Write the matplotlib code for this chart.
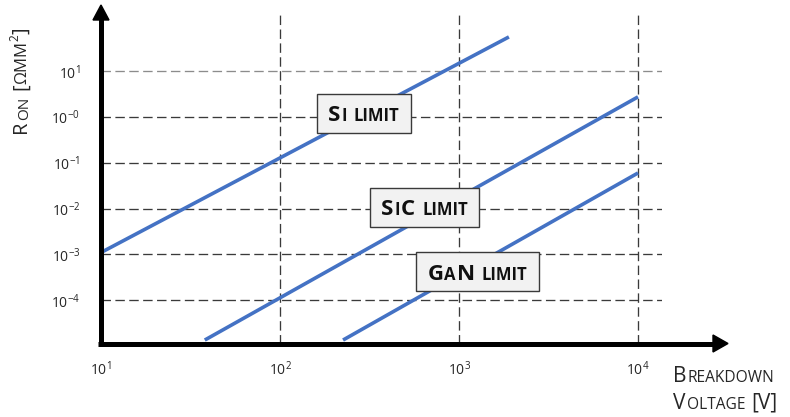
import matplotlib
matplotlib.use("Agg")
import matplotlib.pyplot as plt
from matplotlib.patches import Rectangle, Polygon
from matplotlib.lines import Line2D
from matplotlib.transforms import IdentityTransform

FONT = ['Open Sans', 'DejaVu Sans']
plt.rcParams['font.family'] = FONT
plt.rcParams['lines.scale_dashes'] = False

# ---------------- data ----------------
si_v = [10, 1900]
si_r = [1.1e-3, 56]
sic_v = [38, 1.0e4]
sic_r = [1.35e-5, 2.75]
gan_v = [225, 1.0e4]
gan_r = [1.35e-5, 0.060]

x_ticks = [1e1, 1e2, 1e3, 1e4]
x_labels = ['10^{1}', '10^{2}', '10^{3}', '10^{4}']
y_ticks = [1e-4, 1e-3, 1e-2, 1e-1, 1e0, 1e1]
y_labels = ['10^{-4}', '10^{-3}', '10^{-2}', '10^{-1}', '10^{-0}', '10^{1}']

# ---------------- figure ----------------
DPI = 100
W, H = 790, 417
fig = plt.figure(figsize=(W / DPI, H / DPI), dpi=DPI)
ax = fig.add_axes([101 / W, (H - 343.5) / H, 561 / W, 328.5 / H])
ax.set_xscale('log')
ax.set_yscale('log')
ax.set_xlim(10, 10 ** 4.134)
ax.set_ylim(10 ** -4.945, 10 ** 2.227)
ax.set_frame_on(False)

BLUE = '#4472C4'
for v, r in [(si_v, si_r), (sic_v, sic_r), (gan_v, gan_r)]:
    ax.plot(v, r, color=BLUE, lw=2.6, solid_capstyle='butt', zorder=3)

TXT = '#262626'
ax.set_xticks(x_ticks, labels=[r'$\mathregular{%s}$' % s for s in x_labels])
ax.set_yticks(y_ticks, labels=[r'$\mathregular{%s}$' % s for s in y_labels])
ax.minorticks_off()
ax.tick_params(axis='both', length=0, labelsize=10, labelcolor=TXT)
ax.tick_params(axis='y', pad=15)
ax.tick_params(axis='x', pad=12)
ax.grid(True, which='major', color='#3a3a3a', linewidth=0.95,
        linestyle=(0, (6.8, 3.2)))
ax.yaxis.get_gridlines()[-1].set_color('#8c8c8c')

# ---------------- axis arrows ----------------
ident = IdentityTransform()
fig.canvas.draw()
x0, y0 = ax.transAxes.transform((0, 0))
x1, y1 = ax.transAxes.transform((1, 1))
LW = 3.6
fig.add_artist(Line2D([x0, x0], [y0 - 2.5, y1 - 4], color='black', lw=LW,
                      transform=ident, solid_capstyle='butt', zorder=6))
fig.add_artist(Polygon([[x0 - 8, y1 - 5], [x0 + 8, y1 - 5], [x0, y1 + 10]],
                       closed=True, color='black', transform=ident, zorder=6))
fig.add_artist(Line2D([x0 - 2.5, x1 + 52], [y0, y0], color='black', lw=LW,
                      transform=ident, solid_capstyle='butt', zorder=6))
fig.add_artist(Polygon([[x1 + 51, y0 + 8.5], [x1 + 51, y0 - 8.5], [x1 + 66, y0]],
                       closed=True, color='black', transform=ident, zorder=6))


# ---------------- small caps helper ----------------
def sc_text(x, y, pieces, rotation=0, ha='left', weight='normal', color=TXT,
            kern=1.0, draw=True):
    r = fig.canvas.get_renderer()
    widths = []
    for s, size, rise, k in pieces:
        if s == ' ':
            widths.append(size * 0.30 * DPI / 72)
        else:
            t = fig.text(0, 0, s, fontsize=size, fontweight=weight)
            widths.append(t.get_window_extent(r).width)
            t.remove()
    total = sum(widths) + sum(p[3] for p in pieces[1:]) + kern * (len(pieces) - 1)
    if not draw:
        return total
    off = -total / 2 if ha == 'center' else 0
    for i, ((s, size, rise, k), w) in enumerate(zip(pieces, widths)):
        if i > 0:
            off += k
        if s != ' ':
            if rotation == 0:
                px, py = x + off, y + rise
            else:
                px, py = x - rise, y + off
            fig.text(px, py, s, fontsize=size, fontweight=weight, color=color,
                     rotation=rotation, rotation_mode='anchor', ha='left',
                     va='baseline', transform=ident, zorder=8)
        off += w + kern
    return total


# ---------------- limit labels ----------------
BIG, SMALL = 16, 12
labels = [
    ((294, 1.22), [('S', BIG, 0, 0), ('I', SMALL, 0, 0), (' ', SMALL, 0, 0), ('LIMIT', SMALL, 0, 0)]),
    ((641, 0.0106), [('S', BIG, 0, 0), ('I', SMALL, 0, 0), ('C', BIG, 0, 0), (' ', SMALL, 0, 0), ('LIMIT', SMALL, 0, 0)]),
    ((1268, 4.2e-4), [('G', BIG, 0, 0), ('A', SMALL, 0, 0), ('N', BIG, 0, 0), (' ', SMALL, 0, 0), ('LIMIT', SMALL, 0, 0)]),
]
for (xv, yv), pieces in labels:
    cx, cy = ax.transData.transform((xv, yv))
    tw = sc_text(0, 0, pieces, weight='bold', draw=False)
    bw, bh = tw + 22, 39
    fig.add_artist(Rectangle((cx - bw / 2, cy - bh / 2), bw, bh, transform=ident,
                             facecolor='#F2F2F2', edgecolor='#3a3a3a', lw=1.0, zorder=7))
    cap = 0.714 * BIG * DPI / 72
    sc_text(cx, cy - cap / 2, pieces, ha='center', weight='bold', color='#111111')

# ---------------- axis titles ----------------
XB, XS = 15, 11.2
sc_text(673, H - 382, [('B', XB, 0, 0), ('REAKDOWN', XS, 0, 0)])
sc_text(673, H - 409, [('V', XB, 0, 0), ('OLTAGE', XS, 0, 0), (' ', XS, 0, 0),
                       ('[V]', XB, 0, 0)])

YB, YS = 14.5, 11
sc_text(26, H - 133, [('R', YB, 0, 0), ('ON', YS, -2, 0), (' ', YS, 0, 0),
                      ('[', YB, 0, 0), ('ΩMM', YS + 1, 0, -2), ('2', 8.5, 8, -1),
                      (']', YB, 0, -1)], rotation=90)

fig.savefig('out.png', dpi=DPI)
